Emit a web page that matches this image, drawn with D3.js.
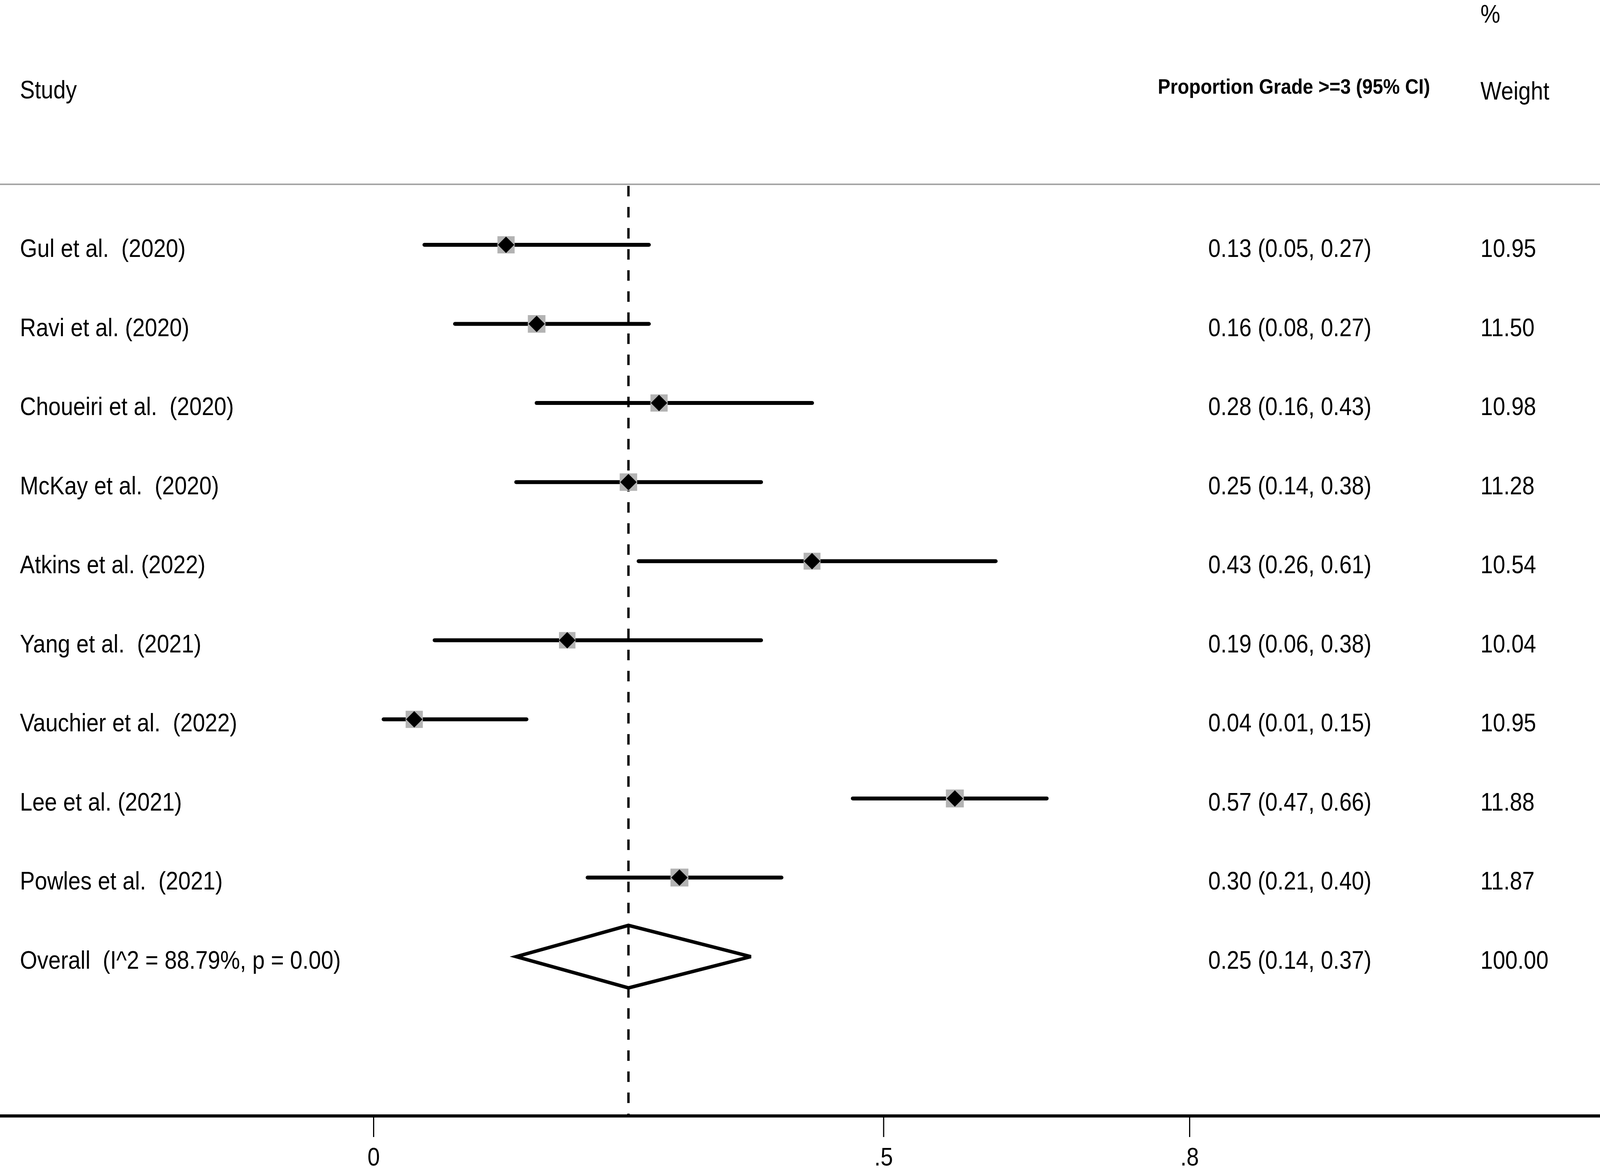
<!DOCTYPE html>
<html>
<head>
<meta charset="utf-8">
<script src="https://cdn.jsdelivr.net/npm/d3@7/dist/d3.min.js"></script>
<style>
  html, body { margin: 0; padding: 0; background: #fff; overflow: hidden; }
  svg { display: block; }
  text { font-family: "Liberation Sans", Arial, sans-serif; fill: #000; white-space: pre; }
</style>
</head>
<body>
<svg id="chart" width="4187" height="2999"></svg>
<script>
// ---- data ----
const studies = [
  "Gul et al.  (2020)",
  "Ravi et al. (2020)",
  "Choueiri et al.  (2020)",
  "McKay et al.  (2020)",
  "Atkins et al. (2022)",
  "Yang et al.  (2021)",
  "Vauchier et al.  (2022)",
  "Lee et al. (2021)",
  "Powles et al.  (2021)"
];
const estimates = [0.13, 0.16, 0.28, 0.25, 0.43, 0.19, 0.04, 0.57, 0.30];
const ciLower   = [0.05, 0.08, 0.16, 0.14, 0.26, 0.06, 0.01, 0.47, 0.21];
const ciUpper   = [0.27, 0.27, 0.43, 0.38, 0.61, 0.38, 0.15, 0.66, 0.40];
const weights   = [10.95, 11.50, 10.98, 11.28, 10.54, 10.04, 10.95, 11.88, 11.87];

const overallLabel = "Overall  (I^2 = 88.79%, p = 0.00)";
const overallEstimate = 0.25;
const overallLower = 0.14;
const overallUpper = 0.37;
const overallWeight = 100.00;

const tickValues = [0, 0.5, 0.8];
const tickLabels = ["0", ".5", ".8"];

// ---- layout ----
const W = 4187, H = 2999;
const SX = 0.89;           // horizontal text compression
const FS = 64;             // body font size
const svg = d3.select("#chart");

const x = d3.scaleLinear().domain([0, 0.8]).range([956, 3045]);
const y = d3.scaleLinear().domain([0, 9]).range([627, 2450]);

const axisY = 2858;
const headerLineY = 472;
const esColX = 3093;
const wColX = 3790;
const studyX = 51;

function addText(tx, ty, str, opts = {}) {
  return svg.append("text")
    .attr("transform", `translate(${tx},${ty}) scale(${SX},1)`)
    .attr("font-size", opts.size || FS)
    .attr("font-weight", opts.weight || "normal")
    .attr("text-anchor", opts.anchor || "start")
    .text(str);
}

// header
addText(studyX, 252, "Study");
addText(2964, 240, "Proportion Grade >=3 (95% CI)", { size: 54, weight: "bold" });
addText(wColX, 58, "%");
addText(wColX, 255, "Weight");

// header separator
svg.append("line")
  .attr("x1", 0).attr("x2", W)
  .attr("y1", headerLineY).attr("y2", headerLineY)
  .attr("stroke", "#a6a6a6").attr("stroke-width", 4);

// dashed overall line
svg.append("line")
  .attr("x1", x(overallEstimate)).attr("x2", x(overallEstimate))
  .attr("y1", headerLineY + 4).attr("y2", axisY)
  .attr("stroke", "#000").attr("stroke-width", 6)
  .attr("stroke-dasharray", "27,27");

// study rows
const fmt = d3.format(".2f");
const rows = studies.map((s, i) => ({
  name: s, es: estimates[i], lo: ciLower[i], hi: ciUpper[i], w: weights[i], i
}));

const g = svg.append("g");

// CI lines
g.selectAll("line.ci").data(rows).join("line")
  .attr("class", "ci")
  .attr("x1", d => x(d.lo)).attr("x2", d => x(d.hi))
  .attr("y1", d => y(d.i)).attr("y2", d => y(d.i))
  .attr("stroke", "#000").attr("stroke-width", 10)
  .attr("stroke-linecap", "round");

// weight boxes (grey)
const boxBase = 44;
const side = d => boxBase * Math.sqrt(d.w / 10.95);
g.selectAll("rect.box").data(rows).join("rect")
  .attr("class", "box")
  .attr("x", d => x(d.es) - side(d) / 2)
  .attr("y", d => y(d.i) - side(d) / 2)
  .attr("width", side)
  .attr("height", side)
  .attr("fill", "#b3b3b3");

// point diamonds
const dm = 21;
g.selectAll("path.pt").data(rows).join("path")
  .attr("class", "pt")
  .attr("d", d => {
    const cx = x(d.es), cy = y(d.i);
    return `M${cx - dm},${cy} L${cx},${cy - dm} L${cx + dm},${cy} L${cx},${cy + dm} Z`;
  })
  .attr("fill", "#000");

// text columns
rows.forEach(d => {
  const by = y(d.i) + 31;
  addText(studyX, by, d.name);
  addText(esColX, by, `${fmt(d.es)} (${fmt(d.lo)}, ${fmt(d.hi)})`);
  addText(wColX, by, fmt(d.w));
});

// overall
const oy = y(9);
const oh = 80;
svg.append("path")
  .attr("d", `M${x(overallLower)},${oy} L${x(overallEstimate)},${oy - oh} L${x(overallUpper)},${oy} L${x(overallEstimate)},${oy + oh} Z`)
  .attr("fill", "none").attr("stroke", "#000").attr("stroke-width", 9)
  .attr("stroke-linejoin", "miter");
addText(studyX, oy + 31, overallLabel);
addText(esColX, oy + 31, `${fmt(overallEstimate)} (${fmt(overallLower)}, ${fmt(overallUpper)})`);
addText(wColX, oy + 31, fmt(overallWeight));

// x axis
svg.append("line")
  .attr("x1", 0).attr("x2", W)
  .attr("y1", axisY).attr("y2", axisY)
  .attr("stroke", "#000").attr("stroke-width", 8);

const axis = d3.axisBottom(x)
  .tickValues(tickValues)
  .tickFormat((d, i) => tickLabels[i])
  .tickSize(54)
  .tickPadding(28);

const ax = svg.append("g")
  .attr("transform", `translate(0,${axisY})`)
  .call(axis);
ax.select(".domain").remove();
ax.selectAll(".tick line").attr("stroke", "#000").attr("stroke-width", 3);
ax.selectAll(".tick text")
  .attr("font-size", FS)
  .attr("font-family", "Liberation Sans, Arial, sans-serif")
  .attr("fill", "#000")
  .attr("transform", `scale(${SX},1)`);
</script>
</body>
</html>
